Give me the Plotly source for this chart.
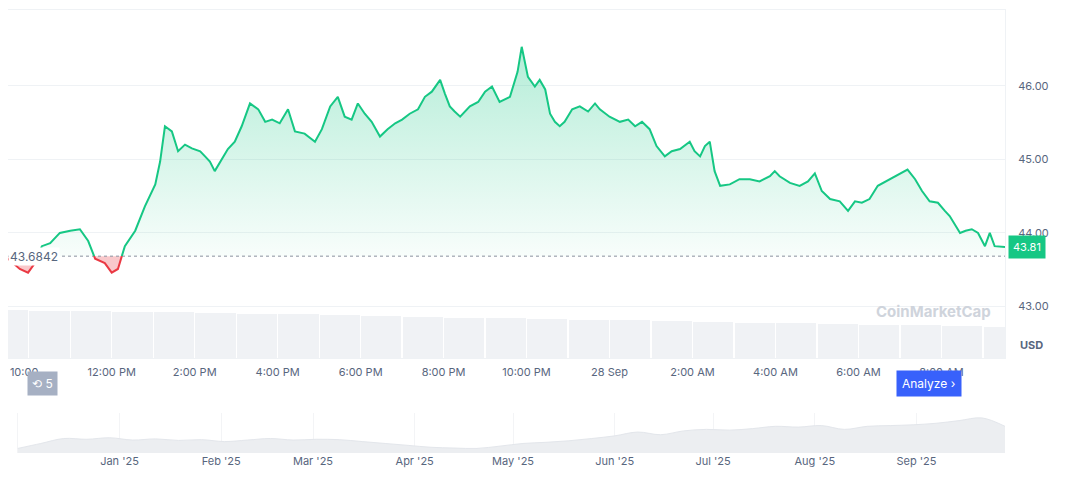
import numpy as np
import pandas as pd
import plotly.graph_objects as go

# main price series: minutes after 27 Sep 09:30, price in USD
minutes = [0, 17, 29, 39, 49, 61, 75, 90, 104, 116, 126, 140, 150, 159, 169, 184, 198, 213, 220, 227,
           237, 246, 256, 266, 278, 285, 292, 299, 307, 318, 328, 338, 350, 362, 372, 382, 393, 405, 415, 429,
           444, 454, 466, 477, 487, 497, 506, 516, 526, 538, 549, 560, 570, 581, 593, 603, 613, 625, 632, 639,
           646, 654, 668, 680, 690, 700, 711, 726, 737, 743, 752, 762, 769, 777, 784, 791, 798, 805, 816, 827,
           839, 849, 856, 870, 885, 897, 907, 917, 928, 938, 950, 960, 972, 986, 993, 1001, 1008, 1015, 1022, 1030,
           1044, 1058, 1073, 1087, 1102, 1109, 1116, 1131, 1145, 1157, 1167, 1177, 1189, 1203, 1215, 1225, 1235, 1246, 1258, 1270,
           1283, 1293, 1301, 1312, 1322, 1333, 1345, 1355, 1362, 1377, 1385, 1394, 1403, 1413, 1420, 1427, 1442]
prices = [43.65, 43.51, 43.46, 43.59, 43.82, 43.86, 44.00, 44.03, 44.05, 43.89, 43.65, 43.59, 43.46, 43.51, 43.82, 44.03, 44.36, 44.66, 44.97, 45.45,
          45.38, 45.11, 45.20, 45.15, 45.11, 45.04, 44.97, 44.84, 44.97, 45.14, 45.24, 45.45, 45.76, 45.68, 45.51, 45.54, 45.49, 45.68, 45.38, 45.35,
          45.24, 45.41, 45.72, 45.85, 45.58, 45.54, 45.76, 45.62, 45.51, 45.31, 45.41, 45.49, 45.54, 45.62, 45.68, 45.85, 45.92, 46.08, 45.89, 45.72,
          45.65, 45.58, 45.72, 45.78, 45.92, 45.99, 45.78, 45.85, 46.19, 46.53, 46.12, 45.99, 46.08, 45.95, 45.62, 45.51, 45.45, 45.51, 45.68, 45.72,
          45.65, 45.76, 45.68, 45.58, 45.51, 45.54, 45.45, 45.51, 45.41, 45.18, 45.04, 45.11, 45.14, 45.24, 45.11, 45.04, 45.18, 45.24, 44.84, 44.64,
          44.66, 44.73, 44.73, 44.70, 44.77, 44.84, 44.77, 44.68, 44.64, 44.70, 44.81, 44.57, 44.46, 44.43, 44.30, 44.43, 44.41, 44.46, 44.64, 44.70,
          44.77, 44.81, 44.86, 44.73, 44.57, 44.43, 44.41, 44.30, 44.23, 44.00, 44.03, 44.05, 44.00, 43.82, 44.00, 43.82, 43.81]
base_price = 43.6842

# hourly volume (relative)
volume = [48, 47, 47, 46, 46, 45, 44, 44, 43, 42, 41, 40, 40, 39, 38, 38, 37, 36, 35, 35, 34, 33, 33, 32, 31]

# navigator overview (relative level)
nav_dates = ["2024-12-01", "2024-12-08", "2024-12-15", "2024-12-22", "2024-12-29", "2025-01-05", "2025-01-12", "2025-01-19",
             "2025-01-26", "2025-02-02", "2025-02-09", "2025-02-16", "2025-02-23", "2025-03-02", "2025-03-09", "2025-03-16",
             "2025-03-23", "2025-03-30", "2025-04-06", "2025-04-13", "2025-04-20", "2025-04-27", "2025-05-04", "2025-05-11",
             "2025-05-18", "2025-05-25", "2025-06-01", "2025-06-08", "2025-06-15", "2025-06-22", "2025-06-29", "2025-07-06",
             "2025-07-13", "2025-07-20", "2025-07-27", "2025-08-03", "2025-08-10", "2025-08-17", "2025-08-24", "2025-08-31",
             "2025-09-07", "2025-09-14", "2025-09-21", "2025-09-28"]
nav_level = [0.12, 0.25, 0.38, 0.36, 0.40, 0.34, 0.37, 0.33, 0.35, 0.30, 0.34, 0.38, 0.34, 0.36, 0.35, 0.30,
             0.25, 0.20, 0.15, 0.13, 0.12, 0.18, 0.25, 0.28, 0.32, 0.38, 0.45, 0.55, 0.48, 0.58, 0.62, 0.60,
             0.64, 0.70, 0.68, 0.72, 0.62, 0.70, 0.72, 0.74, 0.78, 0.85, 0.92, 0.70]

GREEN = "#16c784"
RED = "#ea3943"
start = pd.Timestamp("2025-09-27 09:30")

# page body has an 8px margin, so the figure is drawn 8px in
W, H, OFF = 1064, 469, 8
def px(xp):
    return (xp - OFF) / W
def py(yp):
    return 1 - (yp - OFF) / H

# insert crossing points at the open price so colours split cleanly
t, p = [], []
for i in range(len(prices)):
    if i > 0 and (prices[i - 1] - base_price) * (prices[i] - base_price) < 0:
        f = (base_price - prices[i - 1]) / (prices[i] - prices[i - 1])
        t.append(minutes[i - 1] + f * (minutes[i] - minutes[i - 1]))
        p.append(base_price)
    t.append(minutes[i])
    p.append(prices[i])
t = np.array(t)
p = np.array(p)
x = start + pd.to_timedelta(t, unit="m")
up = np.maximum(p, base_price)
dn = np.minimum(p, base_price)
base_line = np.full(len(p), base_price)

fig = go.Figure()

# volume bars on a hidden secondary axis
vx = start + pd.to_timedelta(np.arange(len(volume)) * 60, unit="m")
fig.add_trace(go.Bar(x=vx, y=volume, yaxis="y2", marker_color="#f0f2f5", marker_line_width=0,
                     hoverinfo="skip", width=3600 * 1000 * 0.97))

fig.add_trace(go.Scatter(x=x, y=base_line, mode="lines", line=dict(width=0), hoverinfo="skip"))
fig.add_trace(go.Scatter(x=x, y=up, mode="lines", line=dict(width=0), fill="tonexty",
                         fillgradient=dict(type="vertical",
                                           colorscale=[[0, "rgba(22,199,132,0.03)"], [1, "rgba(22,199,132,0.32)"]]),
                         hoverinfo="skip"))
fig.add_trace(go.Scatter(x=x, y=base_line, mode="lines", line=dict(width=0), hoverinfo="skip"))
fig.add_trace(go.Scatter(x=x, y=dn, mode="lines", line=dict(width=0), fill="tonexty",
                         fillcolor="rgba(234,57,67,0.28)", hoverinfo="skip"))

# baseline dotted
fig.add_trace(go.Scatter(x=[x[0], x[-1]], y=[base_price, base_price], mode="lines",
                         line=dict(color="#8a919e", width=1, dash="dot"), hoverinfo="skip"))

fig.add_trace(go.Scatter(x=x, y=np.where(p >= base_price, p, np.nan), mode="lines",
                         line=dict(color=GREEN, width=2), connectgaps=False))
fig.add_trace(go.Scatter(x=x, y=np.where(p <= base_price, p, np.nan), mode="lines",
                         line=dict(color=RED, width=2), connectgaps=False))

# navigator
fig.add_trace(go.Scatter(x=pd.to_datetime(nav_dates), y=nav_level, xaxis="x2", yaxis="y3", mode="lines",
                         line=dict(color="#e3e6eb", width=1), fill="tozeroy", fillcolor="#eceef1",
                         line_shape="spline", hoverinfo="skip"))

tick_hours = list(range(0, 25, 2))
tickvals = [start + pd.Timedelta(minutes=30 + 60 * h) for h in tick_hours]
ticktext = ["10:00...", "12:00 PM", "2:00 PM", "4:00 PM", "6:00 PM", "8:00 PM", "10:00 PM", "28 Sep",
            "2:00 AM", "4:00 AM", "6:00 AM", "8:00 AM", "10:00 AM"]

font = dict(family="Inter, Roboto, sans-serif", size=11, color="#58667e")
xd = [px(8), px(1005)]
fig.update_layout(
    width=W, height=H, margin=dict(l=0, r=0, t=0, b=0),
    paper_bgcolor="white", plot_bgcolor="white", showlegend=False, font=font, bargap=0,
    xaxis=dict(domain=xd, range=[x[0], x[-1]], tickvals=tickvals, ticktext=ticktext,
               showgrid=False, zeroline=False, showline=True, linecolor="#eff2f5", mirror=True,
               ticks="", ticklabelstandoff=4),
    yaxis=dict(domain=[py(358), py(10)], range=[42.30, 47.03], side="right",
               tickvals=[43, 44, 45, 46], ticktext=["43.00", "44.00", "45.00", "46.00"],
               gridcolor="#eff2f5", zeroline=False, showline=True, linecolor="#eff2f5", mirror=True,
               ticklabelstandoff=10),
    yaxis2=dict(overlaying="y", range=[0, 348], visible=False),
    xaxis2=dict(domain=xd, anchor="y3", range=["2024-11-28", "2025-09-28"], dtick="M1",
                tickformat="%b '%y", showgrid=True, gridcolor="#f3f4f6", showline=False, zeroline=False),
    yaxis3=dict(domain=[py(453), py(413)], range=[0, 1.05], visible=False),
)

fig.add_annotation(xref="paper", yref="y", x=px(8), y=base_price, text="43.6842", showarrow=False,
                   xanchor="left", bgcolor="white", font=dict(size=12, color="#58667e"))
fig.add_annotation(xref="paper", yref="y", x=px(1008), y=prices[-1], text="43.81", showarrow=False,
                   xanchor="left", bgcolor=GREEN, borderpad=4, font=dict(size=11, color="white"))
fig.add_annotation(xref="paper", yref="paper", x=px(1045), y=py(354), text="<b>USD</b>",
                   showarrow=False, xanchor="right", font=dict(size=11, color="#58667e"))
fig.add_annotation(xref="paper", yref="paper", x=px(993), y=py(311), text="<b>CoinMarketCap</b>",
                   showarrow=False, xanchor="right", font=dict(size=15, color="#cfd4dc"))
fig.add_annotation(xref="paper", yref="paper", x=px(27), y=py(396), text="⟲ 5",
                   showarrow=False, bgcolor="#a6b0c3", borderpad=4, font=dict(size=12, color="white"))
fig.add_annotation(xref="paper", yref="paper", x=px(962), y=py(397), text="Analyze ›",
                   showarrow=False, bgcolor="#3861fb", borderpad=5, font=dict(size=12, color="white"))

fig.write_html("out.html")
